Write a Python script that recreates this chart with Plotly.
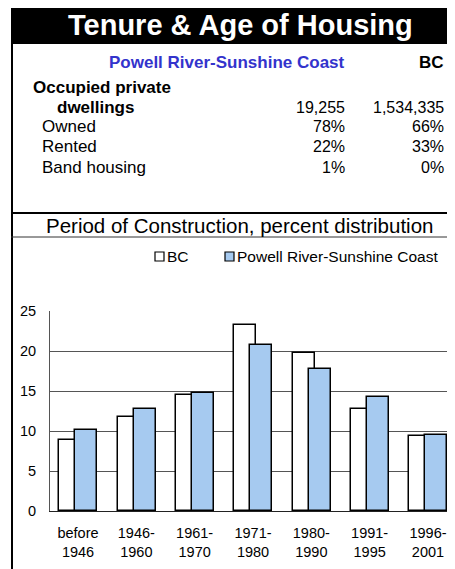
import plotly.graph_objects as go

# ---- data ----
categories = ["before<br>1946", "1946-<br>1960", "1961-<br>1970", "1971-<br>1980",
              "1980-<br>1990", "1991-<br>1995", "1996-<br>2001"]
bc_values = [8.9, 11.7, 14.5, 23.2, 19.7, 12.8, 9.4]
pr_values = [10.1, 12.7, 14.8, 20.8, 17.7, 14.3, 9.5]
series_names = ["BC", "Powell River-Sunshine Coast"]
y_ticks = [0, 5, 10, 15, 20, 25]

title_text = "Tenure & Age of Housing"
subtitle_text = "Period of Construction, percent distribution"
region_header = "Powell River-Sunshine Coast"
bc_header = "BC"
row_labels = ["Occupied private", "dwellings", "Owned", "Rented", "Band housing"]
region_column = ["19,255", "78%", "22%", "1%"]
bc_column = ["1,534,335", "66%", "33%", "0%"]

# ---- geometry (page pixels; the page body has an 8px margin) ----
OFF = 8
W_FIG, H_FIG = 455 - OFF, 569 - OFF
L, T, PW, PH = 50, 311, 405, 200          # plot area in page pixels
def px(x):
    return (x - L) / PW
def py(y):
    return (T + PH - y) / PH

FONT = "Liberation Sans, Arial, sans-serif"
BLUE = "#A6CAF0"

fig = go.Figure()
fig.add_trace(go.Bar(x=categories, y=bc_values, name=series_names[0],
                     width=0.377, offset=-0.32,
                     marker=dict(color="white", line=dict(color="black", width=1.5)),
                     showlegend=False))
fig.add_trace(go.Bar(x=categories, y=pr_values, name=series_names[1],
                     width=0.377, offset=-0.046,
                     marker=dict(color=BLUE, line=dict(color="black", width=1.5)),
                     showlegend=False))

shapes = []
shapes.append(dict(type="rect", xref="paper", yref="paper",
                   x0=px(11), x1=px(470), y0=py(44), y1=py(0),
                   fillcolor="black", line=dict(width=0), layer="above"))
shapes.append(dict(type="line", xref="paper", yref="paper",
                   x0=px(12), x1=px(12), y0=py(44), y1=py(580),
                   line=dict(color="black", width=2)))
shapes.append(dict(type="line", xref="paper", yref="paper",
                   x0=px(11), x1=px(470), y0=py(213), y1=py(213),
                   line=dict(color="black", width=2)))
shapes.append(dict(type="line", xref="paper", yref="paper",
                   x0=px(11), x1=px(470), y0=py(237), y1=py(237),
                   line=dict(color="#333333", width=1)))
shapes.append(dict(type="rect", xref="paper", yref="paper",
                   x0=px(155), x1=px(164), y0=py(261), y1=py(252),
                   fillcolor="white", line=dict(color="black", width=1.2)))
shapes.append(dict(type="rect", xref="paper", yref="paper",
                   x0=px(225), x1=px(234), y0=py(261), y1=py(252),
                   fillcolor=BLUE, line=dict(color="black", width=1.2)))

ann = []
def text(x, y, s, size, anchor="left", bold=False, color="black"):
    ann.append(dict(xref="paper", yref="paper", x=px(x), y=py(y),
                    text=f"<b>{s}</b>" if bold else s, showarrow=False,
                    xanchor=anchor, yanchor="middle",
                    font=dict(family=FONT, size=size, color=color)))

text(240, 25, title_text, 29, "center", True, "white")
text(347, 63, region_header, 17, "right", True, "#3333CC")
text(446, 63, bc_header, 17, "right", True)
text(31, 88, row_labels[0], 17, "left", True)
text(55, 107, row_labels[1], 17, "left", True)
label_y = [107, 126, 146, 167]
for i, ly in enumerate(label_y):
    if i > 0:
        text(40, ly, row_labels[i + 1], 17, "left")
    text(347, ly, region_column[i], 16, "right")
    text(446, ly, bc_column[i], 16, "right")
text(239, 225, subtitle_text, 20.5, "center")
text(165, 256, series_names[0], 15.5, "left")
text(235, 256, series_names[1], 15.5, "left")

fig.update_layout(
    width=W_FIG, height=H_FIG,
    margin=dict(l=L - OFF, r=0, t=T - OFF, b=H_FIG - (T - OFF) - PH, pad=0),
    paper_bgcolor="white", plot_bgcolor="white",
    barmode="overlay", bargap=0,
    shapes=shapes, annotations=ann,
    showlegend=False,
    font=dict(family=FONT, color="black"),
    xaxis=dict(range=[-0.48, 6.463], showgrid=False, showline=True,
               linecolor="#222222", linewidth=1, ticks="",
               ticklabelstandoff=9,
               tickfont=dict(size=14.5, family=FONT, color="black"),
               fixedrange=True),
    yaxis=dict(range=[0, 25], tickvals=y_ticks, showgrid=True,
               gridcolor="#555555", gridwidth=1, zeroline=False,
               showline=True, linecolor="#555555", linewidth=1,
               ticks="", ticklabelstandoff=10,
               tickfont=dict(size=14.5, family=FONT, color="black"),
               fixedrange=True),
)

fig.write_html("out.html")
